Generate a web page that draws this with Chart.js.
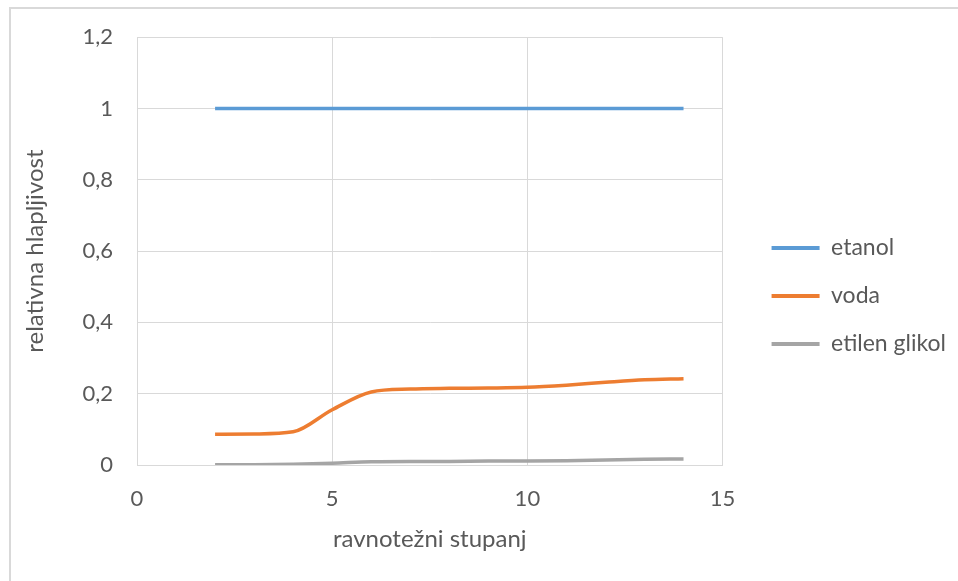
<!DOCTYPE html>
<html>
<head>
<meta charset="utf-8">
<script src="https://cdn.jsdelivr.net/npm/chart.js@4.4.1/dist/chart.umd.min.js"></script>
<style>
  html, body { margin: 0; padding: 0; background: #fff; }
  #wrap { position: relative; width: 958px; height: 581px; overflow: hidden; }
  #frame { position: absolute; left: 9px; top: 7px; width: 980px; height: 600px;
           border: 2px solid #d9d9d9; box-sizing: border-box; }
  #chart { position: absolute; left: 0; top: 0; }
</style>
</head>
<body>
<div id="wrap">
  <div id="frame"></div>
  <canvas id="chart" width="958" height="581"></canvas>
</div>
<script>
// data
const stages = [2, 3, 4, 5, 6, 7, 8, 9, 10, 11, 12, 13, 14];
const etanol = [1, 1, 1, 1, 1, 1, 1, 1, 1, 1, 1, 1, 1];
const voda   = [0.086, 0.087, 0.093, 0.155, 0.205, 0.213, 0.215, 0.216, 0.218, 0.224, 0.232, 0.239, 0.242];
const glikol = [0.001, 0.001, 0.002, 0.005, 0.009, 0.010, 0.010, 0.011, 0.011, 0.012, 0.014, 0.016, 0.017];
const xTicks = [0, 5, 10, 15];
const yTicks = [0, 0.2, 0.4, 0.6, 0.8, 1, 1.2];

const textColor = '#595959';
const gridColor = '#d9d9d9';
const fontFamily = 'Lato, "Open Sans", sans-serif';

function series(label, values, color) {
    return {
        label: label,
        data: stages.map((x, i) => ({ x: x, y: values[i] })),
        borderColor: color,
        backgroundColor: color,
        borderWidth: 3.5,
        pointRadius: 0,
        tension: 0.4,
        cubicInterpolationMode: 'monotone',
        showLine: true
    };
}

new Chart(document.getElementById('chart'), {
    type: 'scatter',
    data: {
        datasets: [
            series('etanol', etanol, '#5b9bd5'),
            series('voda', voda, '#ed7d31'),
            series('etilen glikol', glikol, '#a5a5a5')
        ]
    },
    options: {
        responsive: false,
        animation: false,
        layout: { padding: { top: 37, right: 2, bottom: 26, left: 0 } },
        plugins: {
            tooltip: { enabled: false },
            legend: {
                position: 'right',
                maxWidth: 300,
                labels: {
                    color: textColor,
                    font: { family: fontFamily, size: 23 },
                    boxWidth: 48,
                    boxHeight: 4,
                    padding: 25,
                    generateLabels(chart) {
                        return Chart.defaults.plugins.legend.labels.generateLabels(chart)
                            .map(item => Object.assign(item, { lineWidth: 0 }));
                    }
                }
            }
        },
        scales: {
            x: {
                type: 'linear',
                min: xTicks[0],
                max: xTicks[xTicks.length - 1],
                afterBuildTicks(scale) { scale.ticks = xTicks.map(v => ({ value: v })); },
                afterFit(scale) { scale.height = 90; },
                grid: { color: gridColor, drawTicks: false },
                border: { color: gridColor },
                ticks: { color: textColor, font: { family: fontFamily, size: 22 }, padding: 21 },
                title: {
                    display: true,
                    text: 'ravnotežni stupanj',
                    color: textColor,
                    font: { family: fontFamily, size: 24 },
                    padding: { top: 0, bottom: 1 }
                }
            },
            y: {
                min: yTicks[0],
                max: yTicks[yTicks.length - 1],
                afterBuildTicks(scale) { scale.ticks = yTicks.map(v => ({ value: v })); },
                afterFit(scale) { scale.width = 137; },
                grid: { color: gridColor, drawTicks: false },
                border: { color: gridColor },
                ticks: {
                    color: textColor,
                    font: { family: fontFamily, size: 22 },
                    padding: 24,
                    callback: v => String(+v.toFixed(1)).replace('.', ',')
                },
                title: {
                    display: true,
                    text: 'relativna hlapljivost',
                    color: textColor,
                    font: { family: fontFamily, size: 24 },
                    padding: { top: 21, bottom: 0 }
                }
            },
            gap: {
                position: 'right',
                display: true,
                grid: { display: false },
                border: { display: false },
                ticks: { display: false },
                afterFit(scale) { scale.width = 24; }
            }
        }
    }
});
</script>
</body>
</html>
